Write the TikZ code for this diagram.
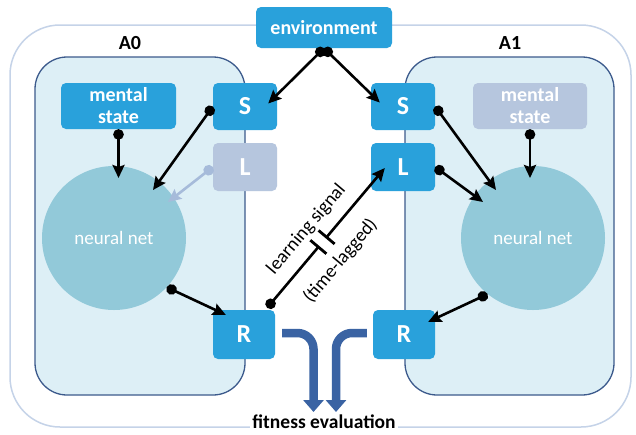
\documentclass[tikz,border=0pt]{standalone}
\usepackage{fontspec}
\setmainfont{Carlito}
\usetikzlibrary{arrows.meta,calc}
\definecolor{boxblue}{RGB}{41,161,219}
\definecolor{fadebox}{RGB}{182,198,222}
\definecolor{netcol}{RGB}{146,201,217}
\definecolor{agentfill}{RGB}{221,239,246}
\definecolor{agentline}{RGB}{60,90,140}
\definecolor{outerline}{RGB}{197,211,232}
\definecolor{fitcol}{RGB}{58,99,163}
\definecolor{fadearrow}{RGB}{166,187,218}
\begin{document}
\begin{tikzpicture}[x=1pt,y=-1pt,
  bluebox/.style={fill=boxblue, rounded corners=5pt, text=white, inner sep=0pt, align=center,
    font=\fontsize{20}{22}\selectfont\bfseries},
  fadedbox/.style={bluebox, fill=fadebox},
  letterbox/.style={minimum width=64pt, minimum height=47pt, font=\fontsize{26}{28}\selectfont\bfseries},
  agentbox/.style={draw=agentline, fill=agentfill, line width=1.3pt, rounded corners=32pt,
    minimum width=210pt, minimum height=338pt, inner sep=0pt},
  netnode/.style={circle, fill=netcol, minimum size=144pt, inner sep=0pt, text=white,
    font=\fontsize{19}{21}\selectfont},
  agentlabel/.style={font=\fontsize{20}{22}\selectfont\bfseries, inner sep=0pt},
  conn/.style={line width=2.6pt, {Circle[length=10.5pt]}-{Stealth[length=13pt,width=12pt,inset=2pt]}},
  fadeconn/.style={conn, draw=fadearrow, color=fadearrow},
  fitarrow/.style={draw=fitcol, line width=8.5pt, rounded corners=16pt,
    -{Triangle[length=12pt,width=20pt]}},
  siglabel/.style={font=\fontsize{19}{21}\selectfont, inner sep=0pt, sloped}
]
\useasboundingbox (0,0) rectangle (636,434);
\fill[white] (0,0) rectangle (636,434);
% outer frame
\draw[outerline, line width=1.5pt, rounded corners=50pt] (10,25) rectangle (631,427);
% agent boxes
\node[agentbox] (ag0) at (140,226) {};
\node[agentbox, minimum width=209pt] (ag1) at (509.5,226) {};
\node[agentlabel] (a0lab) at (130,43) {A0};
\node[agentlabel] (a1lab) at (510,43) {A1};
% environment
\node[bluebox, minimum width=136pt, minimum height=41pt] (env) at (324,27.5) {environment};
% mental states
\node[bluebox, minimum width=115pt, minimum height=46pt] (ms0) at (118.5,106) {mental\\state};
\node[fadedbox, minimum width=114pt, minimum height=46pt] (ms1) at (530,106) {mental\\state};
% neural nets
\node[netnode] (nn0) at (114,238) {neural net};
\node[netnode] (nn1) at (533,238) {neural net};
% S L R boxes
\node[bluebox, letterbox] (S0) at (245,106.5) {S};
\node[fadedbox, letterbox, minimum height=48pt] (L0) at (245,167) {L};
\node[bluebox, letterbox, minimum width=62pt, minimum height=49pt] (R0) at (244,334.5) {R};
\node[bluebox, letterbox] (S1) at (403,106.5) {S};
\node[bluebox, letterbox, minimum height=48pt] (L1) at (403,167) {L};
\node[bluebox, letterbox, minimum width=62pt, minimum height=49pt] (R1) at (404,334.5) {R};
% fitness evaluation
\node[font=\fontsize{19.5}{21}\selectfont\bfseries, fill=white, inner xsep=2pt, inner ysep=0.5pt] (fit) at (324,422) {fitness evaluation};
% connectors
\draw[conn] (env.south) -- ([shift={(-9,-3)}]S0.east);
\draw[conn] (env.south) -- ([shift={(9,-4)}]S1.west);
\draw[conn] (S0.west) -- ([shift={(39,-48)}]nn0.center);
\draw[conn] (ms0.south) -- ([shift={(4.5,-60)}]nn0.center);
\draw[fadeconn] (L0.west) -- ([shift={(54,-36)}]nn0.center);
\draw[conn] (S1.east) -- ([shift={(-37,-48)}]nn1.center);
\draw[conn] (L1.east) -- ([shift={(-50,-36)}]nn1.center);
\draw[conn] (ms1.south) -- ([shift={(-3,-60)}]nn1.center);
\draw[conn] (nn0.-43) -- ([shift={(13,5)}]R0.north west);
\draw[conn] (nn1.231) -- ([shift={(-7,12)}]R1.north east);
% learning signal
\coordinate (ls0) at ([shift={(-8,-2)}]R0.north east);
\coordinate (ls1) at ([shift={(14,1)}]L1.west);
\coordinate (gapA) at ($(ls0)!0.435!(ls1)$);
\coordinate (gapB) at ($(ls0)!0.505!(ls1)$);
\draw[line width=2.6pt, {Circle[length=10.5pt]}-] (ls0) -- (gapA);
\draw[line width=2.6pt, -{Stealth[length=13pt,width=12pt,inset=2pt]}] (gapB) -- (ls1);
\draw[line width=2.8pt] ($(gapA)!10.5pt!90:(ls1)$) -- ($(gapA)!10.5pt!-90:(ls1)$);
\draw[line width=2.8pt] ($(gapB)!10.5pt!90:(ls1)$) -- ($(gapB)!10.5pt!-90:(ls1)$);
\path (ls0) -- (ls1)
  node[siglabel, pos=0.467, above=12pt] (lsig) {learning signal}
  node[siglabel, pos=0.455, below=17pt] (lag) {(time-lagged)};
% fitness arrows
\draw[fitarrow] ([shift={(7,-1.5)}]R0.east) -| ([shift={(-10.5,-10)}]fit.center);
\draw[fitarrow] ([shift={(-6,-1.5)}]R1.west) -| ([shift={(12,-10)}]fit.center);
\end{tikzpicture}
\end{document}
